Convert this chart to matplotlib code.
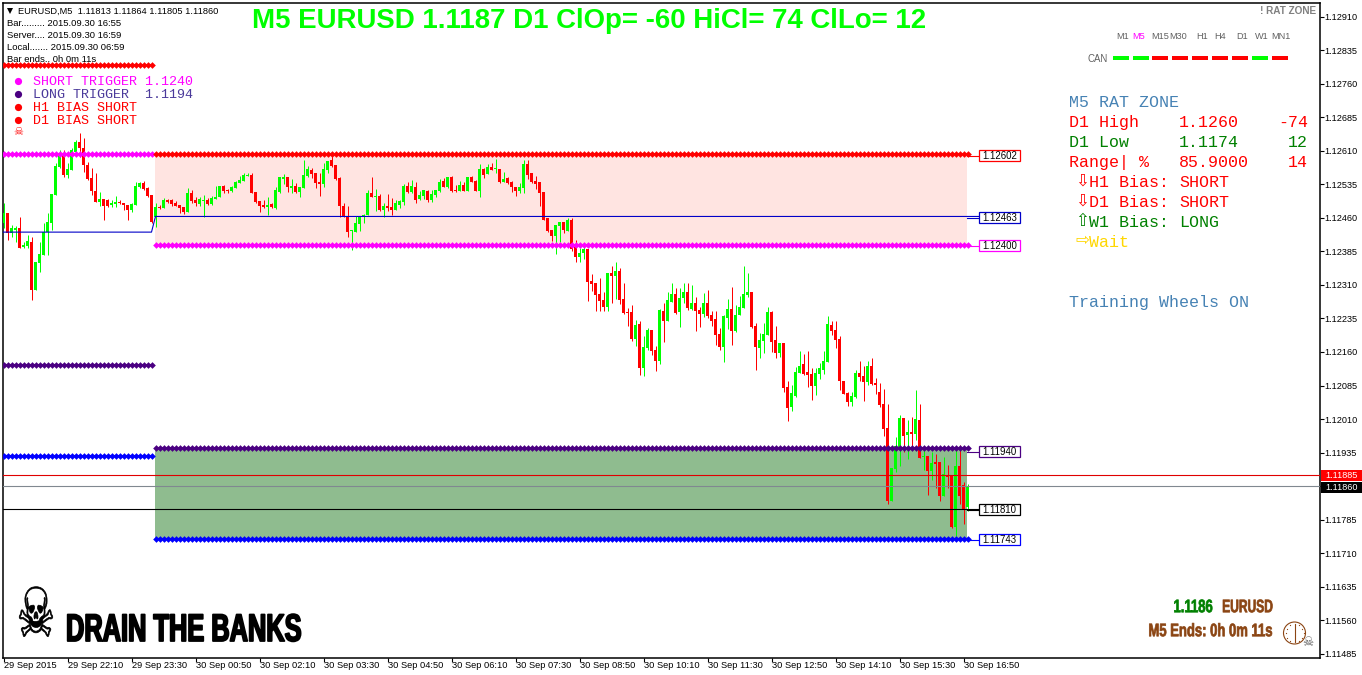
import matplotlib
matplotlib.use("Agg")
import matplotlib.pyplot as plt
from matplotlib.patches import Rectangle, Circle
from matplotlib.patheffects import AbstractPathEffect
from matplotlib.transforms import Affine2D
import numpy as np

W, H = 1362, 675
BASE = 1.1
SCALE = 1e5

opens = [2449,2471,2426,2433,2437,2395,2397,2406,2299,2359,
2377,2428,2449,2511,2574,2601,2556,2567,2607,2630,
2616,2578,2549,2520,2496,2502,2500,2489,2491,2496,
2493,2489,2478,2489,2529,2538,2527,2511,2462,2484,
2482,2500,2500,2493,2489,2484,2473,2516,2500,2491,
2498,2500,2491,2502,2507,2531,2522,2520,2527,2538,
2542,2554,2556,2518,2498,2489,2484,2491,2482,2518,
2547,2551,2527,2531,2518,2527,2554,2567,2560,2540,
2536,2567,2589,2578,2549,2487,2462,2431,2428,2446,
2462,2466,2516,2507,2509,2478,2487,2484,2478,2489,
2496,2531,2518,2529,2502,2509,2520,2500,2511,2520,
2542,2529,2551,2522,2520,2534,2520,2551,2542,2520,
2569,2558,2574,2569,2569,2540,2549,2540,2529,2520,
2527,2580,2560,2542,2540,2518,2460,2433,2420,2442,
2451,2431,2455,2395,2373,2382,2390,2319,2315,2290,
2276,2261,2337,2330,2341,2279,2250,2250,2189,2223,
2125,2169,2209,2165,2140,2252,2230,2272,2290,2250,
2281,2294,2256,2270,2254,2245,2270,2243,2234,2200,
2171,2236,2256,2207,2243,2259,2288,2294,2218,2169,
2185,2198,2250,2187,2158,2180,2082,2037,2062,2113,
2133,2116,2111,2084,2111,2120,2138,2221,2209,2189,
2095,2069,2049,2060,2113,2107,2093,2129,2091,2071,
2044,1990,1827,1899,1948,2013,1975,1982,1977,2008,
1926,1928,1894,1914,1914,1838,1883,1883,1769,1905,
1863,1813]

highs = [2493,2471,2444,2442,2462,2406,2422,2417,2361,2406,
2449,2471,2513,2583,2612,2612,2583,2616,2634,2650,
2639,2585,2572,2560,2518,2502,2502,2500,2509,2500,
2493,2489,2493,2540,2540,2542,2529,2511,2493,2489,
2504,2502,2502,2498,2489,2484,2527,2522,2507,2507,
2511,2504,2509,2531,2531,2534,2525,2531,2542,2554,
2560,2560,2560,2518,2498,2500,2507,2493,2529,2551,
2558,2551,2547,2538,2529,2589,2576,2572,2560,2560,
2583,2587,2601,2578,2551,2493,2487,2433,2464,2464,
2469,2522,2551,2525,2513,2493,2513,2504,2500,2500,
2536,2540,2545,2540,2520,2522,2522,2522,2522,2547,
2549,2551,2554,2534,2542,2540,2551,2554,2545,2580,
2572,2580,2583,2592,2569,2563,2551,2542,2529,2538,
2589,2589,2560,2554,2540,2518,2460,2433,2444,2451,
2451,2460,2460,2411,2393,2397,2390,2335,2315,2326,
2294,2337,2352,2361,2348,2315,2259,2265,2232,2230,
2196,2214,2209,2174,2256,2270,2294,2315,2303,2303,
2315,2315,2310,2283,2261,2292,2299,2252,2252,2214,
2243,2279,2306,2265,2285,2352,2337,2294,2225,2203,
2225,2261,2252,2218,2180,2180,2095,2086,2127,2162,
2156,2162,2125,2125,2136,2162,2241,2230,2230,2196,
2095,2071,2071,2120,2140,2129,2140,2147,2102,2091,
2078,2044,1901,1970,2020,2013,2008,2015,2075,2044,
1941,1928,1937,1932,1914,1926,1908,1885,1941,1952,
1870,1864]

lows = [2437,2411,2417,2406,2393,2393,2393,2276,2299,2339,
2377,2377,2433,2511,2572,2551,2549,2567,2607,2596,
2563,2545,2511,2496,2487,2455,2484,2484,2484,2491,
2478,2455,2473,2489,2527,2522,2507,2449,2440,2480,
2482,2493,2487,2487,2471,2469,2473,2493,2487,2487,
2462,2489,2489,2502,2507,2516,2516,2518,2527,2538,
2542,2554,2516,2493,2473,2482,2466,2482,2480,2516,
2536,2518,2516,2516,2507,2527,2551,2549,2527,2509,
2529,2560,2574,2545,2462,2462,2417,2388,2428,2431,
2449,2466,2507,2475,2475,2462,2475,2466,2478,2482,
2489,2516,2516,2493,2500,2502,2496,2496,2507,2518,
2529,2527,2518,2518,2520,2520,2520,2540,2520,2507,
2549,2558,2567,2560,2538,2540,2536,2518,2509,2516,
2516,2547,2538,2525,2487,2455,2428,2408,2379,2406,
2426,2431,2386,2361,2361,2368,2274,2297,2252,2252,
2252,2252,2270,2279,2268,2245,2218,2185,2174,2109,
2107,2165,2154,2118,2133,2183,2230,2272,2245,2216,
2270,2254,2254,2207,2216,2239,2236,2218,2176,2165,
2138,2212,2176,2205,2243,2259,2283,2214,2120,2147,
2158,2198,2160,2147,2149,2071,2006,2028,2060,2113,
2109,2082,2053,2064,2100,2111,2138,2198,2169,2075,
2066,2040,2040,2057,2095,2051,2086,2086,2066,2037,
1973,1821,1827,1892,1905,1937,1921,1948,1964,1923,
1897,1841,1874,1856,1827,1838,1856,1767,1749,1821,
1776,1805]

closes = [2471,2426,2437,2437,2393,2399,2408,2299,2361,2379,
2428,2451,2513,2576,2601,2556,2569,2612,2630,2616,
2578,2547,2520,2496,2502,2487,2487,2493,2496,2493,
2489,2478,2491,2531,2538,2525,2509,2451,2484,2482,
2500,2496,2491,2487,2482,2473,2516,2498,2493,2502,
2500,2491,2504,2507,2531,2520,2520,2529,2540,2545,
2556,2556,2516,2496,2487,2484,2489,2484,2522,2551,
2551,2529,2531,2518,2529,2556,2569,2558,2538,2536,
2569,2587,2576,2547,2487,2462,2428,2433,2449,2462,
2466,2516,2507,2509,2478,2487,2482,2478,2493,2498,
2531,2518,2531,2500,2511,2522,2500,2513,2522,2540,
2529,2551,2520,2520,2534,2520,2551,2540,2520,2569,
2556,2574,2567,2572,2540,2547,2538,2529,2520,2529,
2580,2556,2540,2536,2516,2455,2431,2420,2444,2451,
2433,2455,2390,2373,2382,2390,2317,2312,2288,2274,
2261,2337,2330,2341,2276,2247,2247,2189,2221,2125,
2171,2209,2162,2140,2254,2230,2276,2290,2247,2281,
2294,2259,2270,2252,2245,2270,2241,2230,2198,2171,
2241,2256,2207,2243,2261,2290,2294,2216,2171,2187,
2200,2250,2183,2158,2180,2080,2035,2069,2116,2129,
2111,2109,2084,2113,2125,2140,2223,2207,2187,2095,
2066,2049,2062,2113,2104,2093,2129,2089,2086,2042,
1988,1827,1901,1950,2013,1973,1982,1977,2011,1923,
1928,1894,1912,1910,1838,1888,1881,1769,1905,1838,
1809,1860]

price_ticks = [2910,2835,2760,2685,2610,2535,2460,2385,2310,2235,2160,2085,2010,1935,1860,1785,1710,1635,1560,1485]
time_tick_bars = [0,16,32,48,64,80,96,112,128,144,160,176,192,208,224,240]
time_labels = ["29 Sep 2015","29 Sep 22:10","29 Sep 23:30","30 Sep 00:50","30 Sep 02:10","30 Sep 03:30",
               "30 Sep 04:50","30 Sep 06:10","30 Sep 07:30","30 Sep 08:50","30 Sep 10:10","30 Sep 11:30",
               "30 Sep 12:50","30 Sep 14:10","30 Sep 15:30","30 Sep 16:50"]

zone_start = 37.875
zone_end = 240.875
level_start = 38
last_bar = 241
label_bar = 244
pink_zone = (2602, 2400)
green_zone = (1946, 1743)
short_left = 2602
old_high_left = 2802
old_mid_left = 2130
old_low_left = 1928
mid_line_old = 2428
mid_line = 2463
black_line = 1810
bid_line = 1860
ask_line = 1885
box_levels = [(2602, "1.12602", "#ff0000"), (2463, "1.12463", "#0000c8"), (2400, "1.12400", "#ff00ff"),
              (1940, "1.11940", "#4b0082"), (1810, "1.11810", "#000000"), (1743, "1.11743", "#0000ff")]


def P(v):
    return BASE + np.asarray(v, dtype=float) / SCALE


def ypx_to_price(y):
    return 1.1291 - (y - 16.5) * 0.00075 / 33.55


def xpx_to_bar(x):
    return (x - 3.5) / 4


class Squeeze(AbstractPathEffect):
    """Scale a text about an anchor in figure pixels, with an optional outline."""
    def __init__(self, x, y, sx=1.0, sy=1.0, stroke=0.0):
        super().__init__()
        self.t = Affine2D().translate(-x, -(H - y)).scale(sx, sy).translate(x, H - y)
        self.stroke = stroke

    def draw_path(self, renderer, gc, tpath, affine, rgbFace=None):
        tr = affine + self.t
        if self.stroke > 0:
            g = renderer.new_gc()
            g.copy_properties(gc)
            g.set_linewidth(self.stroke)
            g.set_foreground(rgbFace)
            renderer.draw_path(g, tpath, tr, rgbFace)
            g.restore()
        else:
            renderer.draw_path(gc, tpath, tr, rgbFace)


plt.rcParams['font.family'] = ['Liberation Sans', 'DejaVu Sans']
fig = plt.figure(figsize=(W/100, H/100), dpi=100, facecolor='white')
L, R, T, B = 2.5, 1319.5, 2.5, 657.5
ax = fig.add_axes([L/W, 1-B/H, (R-L)/W, (B-T)/H])
ax.set_xlim(xpx_to_bar(L), xpx_to_bar(R))
ax.set_ylim(ypx_to_price(B), ypx_to_price(T))
for s in ax.spines.values():
    s.set_linewidth(1.1)
    s.set_color('black')

bars = np.arange(len(closes))
o, h, l, c = map(P, (opens, highs, lows, closes))
up = c >= o
col = np.where(up, '#00ff00', '#ff0000')

ax.add_patch(Rectangle((zone_start, P(pink_zone[1])), zone_end-zone_start, P(pink_zone[0])-P(pink_zone[1]),
                       fc='#ffe4e1', ec='none', zorder=1))
ax.add_patch(Rectangle((zone_start, P(green_zone[1])), zone_end-zone_start, P(green_zone[0])-P(green_zone[1]),
                       fc='#8fbc8f', ec='none', zorder=1))

ax.vlines(bars, l, h, colors=col, linewidth=0.72, zorder=3)
body_low = np.minimum(o, c)
body_h = np.maximum(np.abs(c-o), 0.00002)
ax.bar(bars, body_h, bottom=body_low, width=0.75, color=col, linewidth=0, zorder=3.1)


def level(start, end, value, color):
    xs = np.arange(start, end+1)
    ax.plot(xs, np.full(xs.shape, P(value)), color=color, lw=1.3, marker='D', ms=3.4, mew=0, zorder=5)


level(0, 37, old_high_left, '#ff0000')
level(0, 37, short_left, '#ff00ff')
level(0, 37, old_mid_left, '#4b0082')
level(0, 37, old_low_left, '#0000ff')
level(level_start, last_bar, pink_zone[0], '#ff0000')
level(level_start, last_bar, pink_zone[1], '#ff00ff')
level(level_start, last_bar, green_zone[0], '#4b0082')
level(level_start, last_bar, green_zone[1], '#0000ff')

ax.plot([xpx_to_bar(L), 37, 38, label_bar], P([mid_line_old, mid_line_old, mid_line, mid_line]),
        color='#0000c8', lw=0.8, zorder=4)
ax.plot([xpx_to_bar(L), label_bar], P([black_line, black_line]), color='black', lw=0.8, zorder=4)
ax.axhline(P(ask_line), color='#e00000', lw=0.8, zorder=4)
ax.axhline(P(bid_line), color='#808890', lw=0.8, zorder=4)

ax.yaxis.tick_right()
ax.set_yticks(P(price_ticks))
ax.set_yticklabels([f"{BASE + t/SCALE:.5f}" for t in price_ticks], fontsize=6.6, color='black')
ax.tick_params(axis='y', length=3, width=0.8, pad=0.8)
ax.set_xticks(time_tick_bars)
ax.set_xticklabels(time_labels, fontsize=6.7, ha='left', color='black')
ax.tick_params(axis='x', length=3, width=0.8, pad=-0.7)

ov = fig.add_axes([0, 0, 1, 1], facecolor='none', zorder=10)
ov.set_xlim(0, W)
ov.set_ylim(H, 0)
ov.axis('off')


def txt(x, y, s, color='black', size=6.8, ha='left', family=None, va='center', **kw):
    fam = family if family else ['Liberation Sans', 'DejaVu Sans']
    return ov.text(x, y, s, color=color, fontsize=size, ha=ha, va=va, family=fam, **kw)


MONO = ['Liberation Mono', 'DejaVu Sans Mono']


def mono(x, y, s, color, size=12, ha='left'):
    # y is the line centre; text sits on a common baseline
    return txt(x, y + size * 0.38, s, color, size, ha, family=MONO, va='baseline')


txt(589.5, 21.5, "M5 EURUSD 1.1187 D1 ClOp= -60 HiCl= 74 ClLo= 12", '#00ff00', 19.9, 'center', fontweight='bold')

ov.plot([9.5], [10.8], marker='v', color='black', ms=4.2, mew=0)
txt(18, 11, "EURUSD,M5  1.11813 1.11864 1.11805 1.11860", size=6.7)
txt(7, 23.5, "Bar......... 2015.09.30 16:55")
txt(7, 35.5, "Server.... 2015.09.30 16:59")
txt(7, 47.5, "Local....... 2015.09.30 06:59")
txt(7, 60, "Bar ends.. 0h 0m 11s")

legend_rows = [(81, "SHORT TRIGGER 1.1240", '#ff00ff'), (94, "LONG TRIGGER  1.1194", '#4b3a9b'),
               (107, "H1 BIAS SHORT", '#ff0000'), (120, "D1 BIAS SHORT", '#ff0000')]
bullet_cols = ['#ff00ff', '#4b0082', '#ff0000', '#ff0000']
for (y, s, cl), bc in zip(legend_rows, bullet_cols):
    ov.plot([18.3], [y], marker='o', color=bc, ms=5.2, mew=0)
    mono(33, y, s, cl, 9.6)
txt(18.3, 132, "\u2620", '#ff0000', 8, 'center', family=['DejaVu Sans'])

for v, s, cl in box_levels:
    y = {2602: 155.5, 2463: 217.5, 2400: 245.5, 1940: 451.5, 1810: 509.5, 1743: 539.5}[v]
    ov.plot([967, 979], [y, y], color=cl, lw=0.8)
    ov.add_patch(Rectangle((978.5, y-5.5), 41, 11, fc='white', ec=cl, lw=0.9, zorder=6))
    txt(999.5, y+0.2, s, 'black', 6.9, 'center', zorder=7)

ov.add_patch(Rectangle((1321, 469.5), 41, 11, fc='#ff0000', ec='none', clip_on=False))
txt(1325, 475, "1.11885", 'white', 6.6)
ov.add_patch(Rectangle((1321, 481.5), 41, 11, fc='#000000', ec='none', clip_on=False))
txt(1325, 487, "1.11860", 'white', 6.6)

txt(1316, 11, "! RAT ZONE", '#808080', 7.2, 'right', fontweight='bold')
tfs = ["M1", "M5", "M15", "M30", "H1", "H4", "D1", "W1", "MN1"]
tf_x = [1116, 1132, 1151, 1169, 1196, 1214, 1236, 1255, 1271]
tf_cols = ['#606060', '#ff00ff'] + ['#606060']*7
can_cols = ['#00ff00', '#00ff00', '#ff0000', '#ff0000', '#ff0000', '#ff0000', '#ff0000', '#00ff00', '#ff0000']
can_x = [1113, 1133, 1152, 1172, 1192, 1212, 1232, 1252, 1272]
for s, x, cl in zip(tfs, tf_x, tf_cols):
    txt(x, 36.5, s, cl, 6.6)
txt(1088, 58.5, "CAN", '#606060', 6.9)
for x, cl in zip(can_x, can_cols):
    ov.add_patch(Rectangle((x, 55.5), 15.5, 4, fc=cl, ec='none'))

BL = '#4682b4'; RD = '#ff0000'; GN = '#008000'; GD = '#ffd700'
mono(1069, 102, "M5 RAT ZONE", BL)
rows = [(122, "D1 High", "1.1260", "-74", RD), (142, "D1 Low", "1.1174", "12", GN), (162, "Range| %", "85.9000", "14", RD)]
for y, a, b, d, cl in rows:
    mono(1069, y, a, cl)
    mono(1179, y, b, cl)
    mono(1308, y, d, cl, ha='right')
bias = [(182, "\u21e9", "H1 Bias:", "SHORT", RD), (202, "\u21e9", "D1 Bias:", "SHORT", RD), (222, "\u21e7", "W1 Bias:", "LONG", GN)]
for y, ar, a, b, cl in bias:
    txt(1075, y-1, ar, cl, 12, family=['DejaVu Sans'])
    mono(1089, y, a, cl)
    mono(1179, y, b, cl)
txt(1075, 240, "\u21e8", GD, 12, family=['DejaVu Sans'])
mono(1089, 242, "Wait", GD)
mono(1069, 302, "Training Wheels ON", BL)

BR = '#8b4513'
txt(1213, 607, "1.1186", '#008000', 10, 'right', fontweight='bold',
    path_effects=[Squeeze(1213, 607, sx=0.94, sy=1.3, stroke=0.5)])
txt(1273, 607, "EURUSD", BR, 10, 'right', fontweight='bold',
    path_effects=[Squeeze(1273, 607, sx=0.865, sy=1.3, stroke=0.5)])
txt(1273, 631, "M5 Ends: 0h 0m 11s", BR, 10, 'right', fontweight='bold',
    path_effects=[Squeeze(1273, 631, sx=0.94, sy=1.3, stroke=0.5)])
ov.add_patch(Circle((1294.5, 633), 11, fc='none', ec=BR, lw=0.8))
ov.plot([1294.5, 1294.5], [625, 641], color=BR, lw=0.8)
clock_angles = np.arange(12) * np.pi / 6
ov.plot(1294.5 + 9*np.cos(clock_angles), 633 + 9*np.sin(clock_angles), ls='none', marker='o', ms=0.9, color=BR, mew=0)
txt(1308, 643, "\u2620", '#606060', 9, 'center', family=['DejaVu Sans'])

txt(36, 618, "\u2620", 'black', 41, 'center', family=['DejaVu Sans'],
    path_effects=[Squeeze(36, 618, sx=0.76, sy=1.2, stroke=0.5)])
txt(66, 631, "DRAIN THE BANKS", 'black', 27.7, fontweight='bold',
    path_effects=[Squeeze(66, 631, sx=0.66, stroke=1.3)])

fig.savefig("out.png", dpi=100, facecolor='white')
